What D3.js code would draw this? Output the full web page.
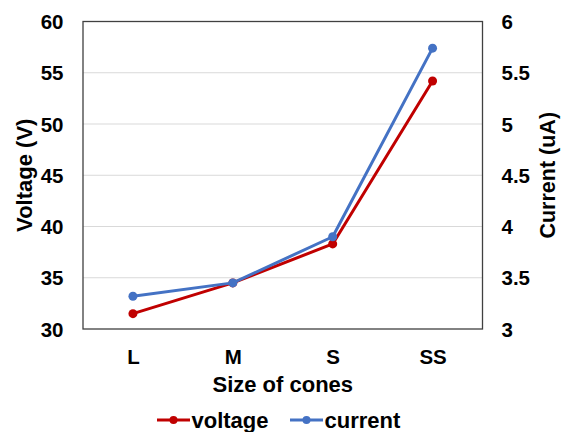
<!DOCTYPE html>
<html><head><meta charset="utf-8">
<script src="https://cdn.jsdelivr.net/npm/d3@7"></script>
<style>body{margin:0;background:#fff}svg{display:block}text{font-family:"Liberation Sans",Arial,sans-serif;font-weight:bold;fill:#000}</style>
</head><body>
<script>
const categories = ["L", "M", "S", "SS"];
const voltage = [31.5, 34.5, 38.3, 54.2];
const current = [3.32, 3.45, 3.9, 5.74];
const leftTicks = [30, 35, 40, 45, 50, 55, 60];
const rightTicks = [3, 3.5, 4, 4.5, 5, 5.5, 6];
const seriesNames = ["voltage", "current"];
const colors = ["#C00000", "#4472C4"];

const W = 561, H = 432;
const L = 83, R = 482.5, T = 21.5, B = 329;
const svg = d3.select("body").append("svg").attr("width", W).attr("height", H);

const x = d3.scalePoint().domain(categories).range([L, R]).padding(0.5);
const yL = d3.scaleLinear().domain([30, 60]).range([B, T]);
const yR = d3.scaleLinear().domain([3, 6]).range([B, T]);

// gridlines
svg.append("g").selectAll("line").data(leftTicks.slice(1, -1)).join("line")
  .attr("x1", L).attr("x2", R).attr("y1", d => yL(d)).attr("y2", d => yL(d))
  .attr("stroke", "#d9d9d9").attr("stroke-width", 1);

// frame
svg.append("rect").attr("x", L).attr("y", T).attr("width", R - L).attr("height", B - T)
  .attr("fill", "none").attr("stroke", "#404040").attr("stroke-width", 1.3);

// axes labels
const axL = svg.append("g").attr("transform", `translate(${L},0)`)
  .call(d3.axisLeft(yL).tickValues(leftTicks).tickSize(0).tickPadding(19.5));
axL.select(".domain").remove();
axL.selectAll("text").style("font-size", "20.5px").attr("font-family", null).attr("dy", "0.35em");

const axR = svg.append("g").attr("transform", `translate(${R},0)`)
  .call(d3.axisRight(yR).tickValues(rightTicks).tickFormat(d3.format("~g")).tickSize(0).tickPadding(19));
axR.select(".domain").remove();
axR.selectAll("text").style("font-size", "20.5px").attr("font-family", null).attr("dy", "0.35em");

const axB = svg.append("g").attr("transform", `translate(0,${B})`)
  .call(d3.axisBottom(x).tickSize(0).tickPadding(20));
axB.select(".domain").remove();
axB.selectAll("text").style("font-size", "20.5px").attr("font-family", null).attr("dy", "0.71em");

// axis titles
svg.append("text").attr("x", (L + R) / 2).attr("y", 392).attr("text-anchor", "middle")
  .style("font-size", "22px").text("Size of cones");
svg.append("text").attr("transform", `translate(31.5,${(T + B) / 2}) rotate(-90)`)
  .attr("text-anchor", "middle").style("font-size", "22px").text("Voltage (V)");
svg.append("text").attr("transform", `translate(555,${(T + B) / 2}) rotate(-90)`)
  .attr("text-anchor", "middle").style("font-size", "21.5px").text("Current (uA)");

// series
const series = [
  {name: seriesNames[0], vals: voltage, y: yL, color: colors[0]},
  {name: seriesNames[1], vals: current, y: yR, color: colors[1]}
];
series.forEach(s => {
  const line = d3.line().x((d, i) => x(categories[i])).y(d => s.y(d));
  svg.append("path").datum(s.vals).attr("d", line).attr("fill", "none")
    .attr("stroke", s.color).attr("stroke-width", 3).attr("stroke-linejoin", "round");
  svg.append("g").selectAll("circle").data(s.vals).join("circle")
    .attr("cx", (d, i) => x(categories[i])).attr("cy", d => s.y(d)).attr("r", 4.5)
    .attr("fill", s.color);
});

// legend
const legX = [157, 290];
series.forEach((s, i) => {
  const g = svg.append("g").attr("transform", `translate(${legX[i]},420)`);
  g.append("line").attr("x1", 0).attr("x2", 33).attr("stroke", s.color).attr("stroke-width", 3);
  g.append("circle").attr("cx", 16.5).attr("r", 4).attr("fill", s.color);
  g.append("text").attr("x", 34.5).attr("y", 8).style("font-size", "22px").text(s.name);
});
</script>
</body></html>
